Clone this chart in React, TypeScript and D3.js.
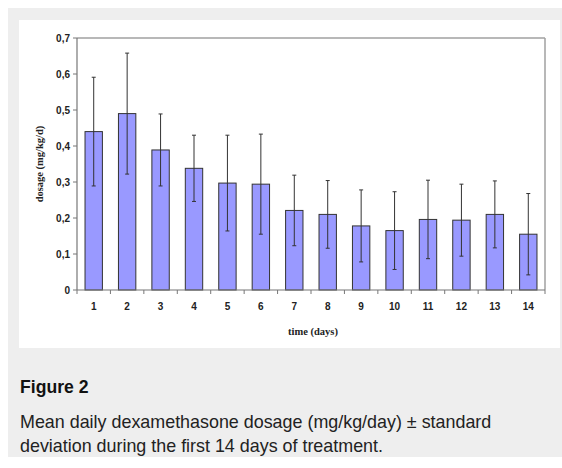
import React from 'react';
import * as d3 from 'd3';

// chart values
const days = ['1', '2', '3', '4', '5', '6', '7', '8', '9', '10', '11', '12', '13', '14'];
const meanDose = [0.44, 0.49, 0.389, 0.338, 0.297, 0.294, 0.221, 0.21, 0.178, 0.165, 0.196, 0.194, 0.21, 0.155];
const sdDose = [0.151, 0.168, 0.1, 0.092, 0.133, 0.139, 0.098, 0.094, 0.1, 0.108, 0.109, 0.1, 0.093, 0.113];
const yTicks = [0, 0.1, 0.2, 0.3, 0.4, 0.5, 0.6, 0.7];

const W = 562;
const H = 468;
const plot = { left: 77, right: 545, top: 38, bottom: 290 };

if (typeof document !== 'undefined') document.body.style.margin = '0';

export default function App() {
  const x = d3.scaleBand().domain(days).range([plot.left, plot.right]).paddingInner(0.48).paddingOuter(0.24);
  const y = d3.scaleLinear().domain([0, 0.7]).range([plot.bottom, plot.top]);
  // tick marks on the x axis sit between categories
  const step = x.step();
  const boundaries = d3.range(days.length + 1).map((i) => plot.left + i * step);
  const fmt = (v: number) => (v === 0 ? '0' : d3.format('.1f')(v).replace('.', ','));
  const sans = 'Liberation Sans, Arial, sans-serif';
  const serif = 'Liberation Serif, Times New Roman, serif';

  return (
    <svg width={W} height={H} style={{ display: 'block' }}>
      <rect x={0} y={0} width={W} height={H} fill="#fff" />
      <rect x={8} y={8} width={W - 8} height={449} fill="#eeeeee" />
      <rect x={19} y={20} width={541} height={328} fill="#fff" />

      {/* plot frame */}
      <line x1={plot.left} x2={plot.right} y1={plot.top} y2={plot.top} stroke="#a0a0a0" strokeWidth={1.5} />
      <line x1={plot.right} x2={plot.right} y1={plot.top} y2={plot.bottom} stroke="#a0a0a0" strokeWidth={1.5} />

      {/* bars */}
      {days.map((d, i) => (
        <rect
          key={d}
          x={x(d)}
          y={y(meanDose[i])}
          width={x.bandwidth()}
          height={y(0) - y(meanDose[i])}
          fill="#9999ff"
          stroke="#333"
          strokeWidth={1}
        />
      ))}

      {/* error bars */}
      {days.map((d, i) => {
        const cx = (x(d) as number) + x.bandwidth() / 2;
        const top = y(meanDose[i] + sdDose[i]);
        const bot = y(meanDose[i] - sdDose[i]);
        return (
          <g key={'e' + d} stroke="#333" strokeWidth={1}>
            <line x1={cx} x2={cx} y1={top} y2={bot} />
            <line x1={cx - 2} x2={cx + 2} y1={top} y2={top} />
            <line x1={cx - 2} x2={cx + 2} y1={bot} y2={bot} />
          </g>
        );
      })}

      {/* y axis */}
      <line x1={plot.left} x2={plot.left} y1={plot.top} y2={plot.bottom} stroke="#777" strokeWidth={1.2} />
      {yTicks.map((t) => (
        <g key={t} transform={`translate(0, ${y(t)})`}>
          <line x1={plot.left - 4} x2={plot.left} stroke="#777" />
          <text x={plot.left - 7} dy="0.35em" textAnchor="end" fontFamily={sans} fontWeight="bold" fontSize={10} fill="#222">
            {fmt(t)}
          </text>
        </g>
      ))}

      {/* x axis */}
      <line x1={plot.left} x2={plot.right} y1={plot.bottom} y2={plot.bottom} stroke="#777" strokeWidth={1.2} />
      {boundaries.map((b, i) => (
        <line key={'t' + i} x1={b} x2={b} y1={plot.bottom} y2={plot.bottom + 4} stroke="#777" />
      ))}
      {days.map((d) => (
        <text
          key={'l' + d}
          x={(x(d) as number) + x.bandwidth() / 2}
          y={plot.bottom + 16}
          dy="0.35em"
          textAnchor="middle"
          fontFamily={sans}
          fontWeight="bold"
          fontSize={10}
          fill="#222"
        >
          {d}
        </text>
      ))}

      <text x={(plot.left + plot.right) / 2 + 2} y={331} dy="0.35em" textAnchor="middle" fontFamily={serif} fontWeight="bold" fontSize={10.5} fill="#222">
        time (days)
      </text>
      <text
        transform={`translate(39, ${(plot.top + plot.bottom) / 2}) rotate(-90)`}
        dy="0.35em"
        textAnchor="middle"
        fontFamily={serif}
        fontWeight="bold"
        fontSize={10.5}
        fill="#222"
      >
        dosage (mg/kg/d)
      </text>

      {/* caption */}
      <text x={20} y={393} fontFamily={sans} fontWeight="bold" fontSize={17.6} fill="#111">
        Figure 2
      </text>
      <text x={20} y={428} fontFamily={sans} fontSize={17.9} fill="#222">
        Mean daily dexamethasone dosage (mg/kg/day) ± standard
      </text>
      <text x={20} y={452} fontFamily={sans} fontSize={17.9} fill="#222">
        deviation during the first 14 days of treatment.
      </text>
    </svg>
  );
}
